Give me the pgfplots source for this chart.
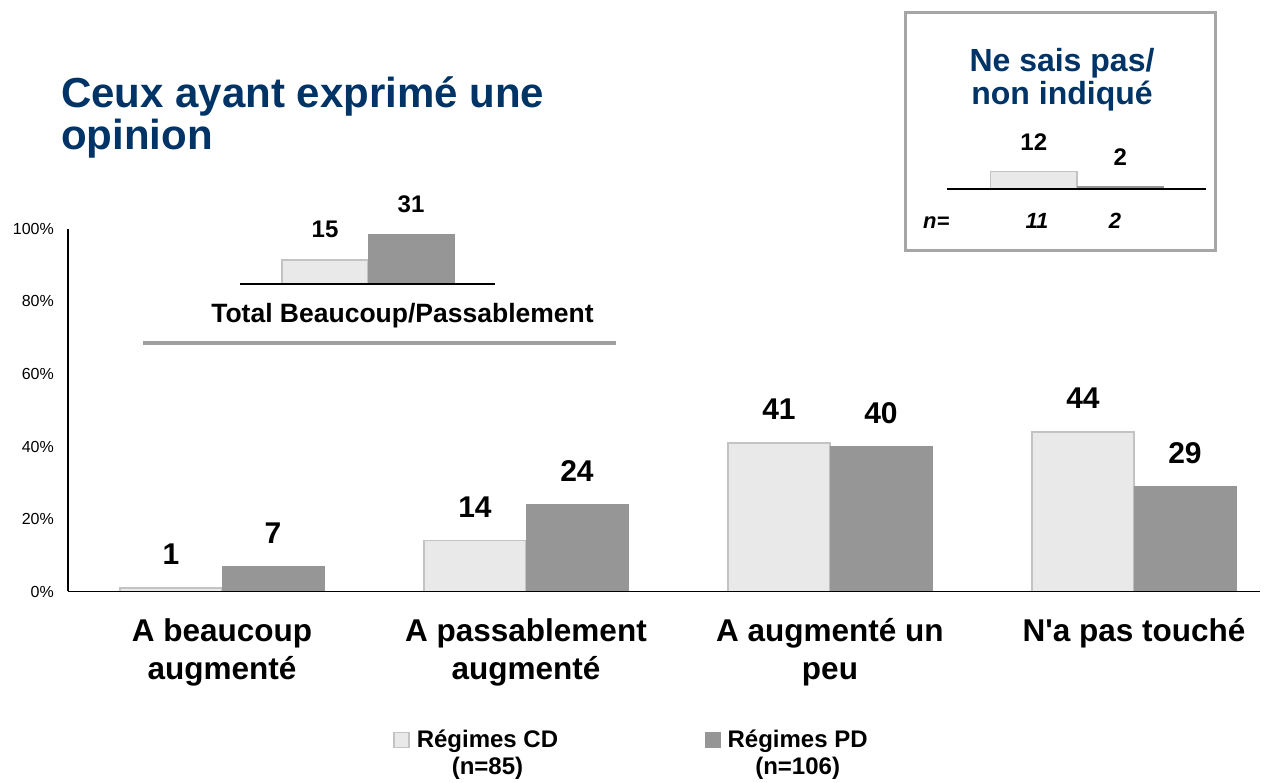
\documentclass[border=0pt]{standalone}
\usepackage{pgfplots}
\pgfplotsset{compat=1.18}
\usepackage{fontspec}
\setmainfont{Liberation Sans}[Ligatures=TeXOff]
\definecolor{cdfill}{RGB}{233,233,233}
\definecolor{cddraw}{RGB}{195,195,195}
\definecolor{pdfill}{RGB}{150,150,150}
\definecolor{navy}{RGB}{0,51,102}
\definecolor{boxgray}{RGB}{166,166,166}
\definecolor{linegray}{RGB}{160,160,160}
\begin{document}
\begin{tikzpicture}[x=1bp,y=1bp]
% ---------------- main chart ----------------
\begin{axis}[
  at={(68bp,191.5bp)}, anchor=south west,
  scale only axis, width=1192bp, height=362.5bp,
  xmin=-0.5066, xmax=3.4145, ymin=0, ymax=100,
  axis x line=bottom, axis y line=left,
  axis line style={line width=1.5bp,-},
  axis on top,
  ybar=0pt, bar width=102bp,
  xtick={0,1,2,3},
  xticklabels={{A beaucoup\\augmenté},{A passablement\\augmenté},{A augmenté un\\peu},{N'a pas touché}},
  xticklabel style={align=center, font=\fontsize{31.5bp}{38bp}\selectfont\bfseries, anchor=north, inner sep=0pt, yshift=-27bp},
  ytick={0,20,40,60,80,100},
  yticklabels={0\%,20\%,40\%,60\%,80\%,100\%},
  yticklabel style={font=\fontsize{16bp}{19bp}\selectfont, anchor=east, inner sep=0pt, xshift=-14bp},
  major tick length=0pt,
  /pgf/number format/assume math mode=true,
  nodes near coords,
  nodes near coords style={font=\fontsize{30bp}{36bp}\selectfont\bfseries, anchor=base, inner sep=0pt, yshift=23bp},
  clip=false,
  legend columns=2,
  legend cell align=center,
  legend image code/.code={\draw[#1] (0bp,5bp) rectangle (15bp,20bp);},
  legend style={at={(0.2727,-0.380)}, anchor=north west, draw=none, fill=none, inner sep=0pt,
    font=\fontsize{24bp}{27bp}\selectfont\bfseries,
    nodes={align=center, inner sep=0pt},
    /tikz/every odd column/.append style={column sep=7bp},
    /tikz/every even column/.append style={column sep=147bp}},
]
\addplot[fill=cdfill, draw=cddraw, line width=1.5bp] coordinates {(0,1) (1,14) (2,41) (3,44)};
\addlegendentry{Régimes CD\\(n=85)}
\addplot[fill=pdfill, draw=pdfill, line width=0.5bp] coordinates {(0,7) (1,24) (2,40) (3,29)};
\addlegendentry{Régimes PD\\(n=106)}
\end{axis}
% ---------------- inset: Total Beaucoup/Passablement ----------------
\begin{axis}[
  at={(240bp,499bp)}, anchor=south west,
  scale only axis, width=255bp, height=80bp,
  xmin=0, xmax=255, ymin=0, ymax=50,
  axis x line=bottom, axis y line=none,
  axis line style={line width=1.5bp,-},
  axis on top,
  xtick=\empty, ytick=\empty,
  ybar=0pt, bar width=86bp,
  /pgf/number format/assume math mode=true,
  nodes near coords,
  nodes near coords style={font=\fontsize{24bp}{28bp}\selectfont\bfseries, anchor=base, inner sep=0pt, yshift=22bp},
  clip=false,
]
\addplot[fill=cdfill, draw=cddraw, line width=1.5bp] coordinates {(128,15)};
\addplot[fill=pdfill, draw=pdfill, line width=0.5bp] coordinates {(128,31)};
\end{axis}
% ---------------- inset: Ne sais pas ----------------
\begin{axis}[
  at={(947bp,594bp)}, anchor=south west,
  scale only axis, width=259bp, height=43.5bp,
  xmin=0, xmax=259, ymin=0, ymax=30,
  axis x line=bottom, axis y line=none,
  axis line style={line width=1.5bp,-},
  axis on top,
  xtick=\empty, ytick=\empty,
  ybar=0pt, bar width=86.5bp,
  /pgf/number format/assume math mode=true,
  nodes near coords,
  nodes near coords style={font=\fontsize{24bp}{28bp}\selectfont\bfseries, anchor=base, inner sep=0pt, yshift=21bp},
  clip=false,
]
\addplot[fill=cdfill, draw=cddraw, line width=1.5bp] coordinates {(130,12)};
\addplot[fill=pdfill, draw=pdfill, line width=0.5bp] coordinates {(130,2)};
\end{axis}
% ---------------- texts and decorations ----------------
\node[anchor=base west, inner sep=0pt, text=navy, font=\fontsize{42bp}{48bp}\selectfont\bfseries] at (61,675) {Ceux ayant exprimé une};
\node[anchor=base west, inner sep=0pt, text=navy, font=\fontsize{42bp}{48bp}\selectfont\bfseries] at (61,633) {opinion};
\node[anchor=base, inner sep=0pt, font=\fontsize{26.5bp}{30bp}\selectfont\bfseries] at (402.5,460) {Total Beaucoup/Passablement};
\draw[linegray, line width=4bp] (143,440) -- (616,440);
\draw[boxgray, line width=3bp] (905,532) rectangle (1215,770);
\node[anchor=base, inner sep=0pt, text=navy, font=\fontsize{32bp}{34bp}\selectfont\bfseries] at (1062,711) {Ne sais pas/};
\node[anchor=base, inner sep=0pt, text=navy, font=\fontsize{32bp}{34bp}\selectfont\bfseries] at (1062,678) {non indiqué};
\node[anchor=base west, inner sep=0pt, font=\fontsize{22bp}{26bp}\selectfont\bfseries\itshape] at (923,554) {n=};
\node[anchor=base, inner sep=0pt, font=\fontsize{22bp}{26bp}\selectfont\bfseries\itshape] at (1037,554) {11};
\node[anchor=base, inner sep=0pt, font=\fontsize{22bp}{26bp}\selectfont\bfseries\itshape] at (1115,554) {2};
\pgfresetboundingbox
\useasboundingbox (0,0) rectangle (1269,783);
\end{tikzpicture}
\end{document}
